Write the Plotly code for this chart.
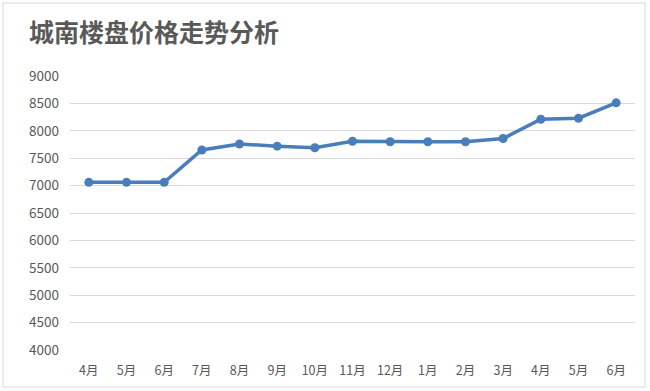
import plotly.graph_objects as go

months = ["4月", "5月", "6月", "7月", "8月", "9月", "10月", "11月", "12月",
          "1月", "2月", "3月", "4月", "5月", "6月"]
prices = [7060, 7060, 7060, 7650, 7760, 7720, 7690, 7810, 7800,
          7800, 7800, 7860, 8210, 8230, 8510]
y_ticks = list(range(4000, 9001, 500))

x_idx = list(range(len(months)))

W, H = 650, 391
L, R, T, B = 70, 15, 76, 41

fig = go.Figure()
fig.add_trace(go.Scatter(
    x=x_idx, y=prices, mode="lines+markers",
    line=dict(color="#4a7ebb", width=3.5),
    marker=dict(color="#4a7ebb", size=9),
    hoverinfo="x+y",
))

pw = W - L - R
ph = H - T - B
def px_to_paper_x(px):
    return (px - L) / pw
def px_to_paper_y(py):
    return (H - B - py) / ph

fig.update_layout(
    width=W, height=H,
    margin=dict(l=L, r=R, t=T, b=B),
    paper_bgcolor="white", plot_bgcolor="white",
    showlegend=False,
    font=dict(family="Noto Sans CJK SC, sans-serif", color="#595959", size=12),
    title=dict(text="<b>城南楼盘价格走势分析</b>", xref="container", yref="container",
               x=29 / W, xanchor="left", y=1 - 33 / H, yanchor="middle",
               font=dict(size=25, color="#595959", family="Noto Sans CJK SC, sans-serif")),
    xaxis=dict(range=[-0.5, len(months) - 0.5], tickmode="array",
               tickvals=x_idx, ticktext=months, showgrid=False,
               zeroline=False, showline=False, ticks="",
               ticklabelstandoff=11,
               tickfont=dict(size=12.5, color="#595959")),
    yaxis=dict(range=[4000, 9000], tickmode="array", tickvals=y_ticks,
               ticktext=[str(v) for v in y_ticks],
               showgrid=True, gridcolor="#d9d9d9", gridwidth=1,
               zeroline=False, showline=False, ticks="",
               ticklabelstandoff=10,
               tickfont=dict(size=13.5, color="#595959")),
    shapes=[dict(type="rect", xref="paper", yref="paper",
                 x0=px_to_paper_x(3), x1=px_to_paper_x(645),
                 y0=px_to_paper_y(387), y1=px_to_paper_y(3),
                 line=dict(color="#d9d9d9", width=1), fillcolor="rgba(0,0,0,0)",
                 layer="below")],
)

fig.write_html("out.html", config={"displayModeBar": False},
               post_script="document.body.style.margin='0';document.body.style.padding='0';")
